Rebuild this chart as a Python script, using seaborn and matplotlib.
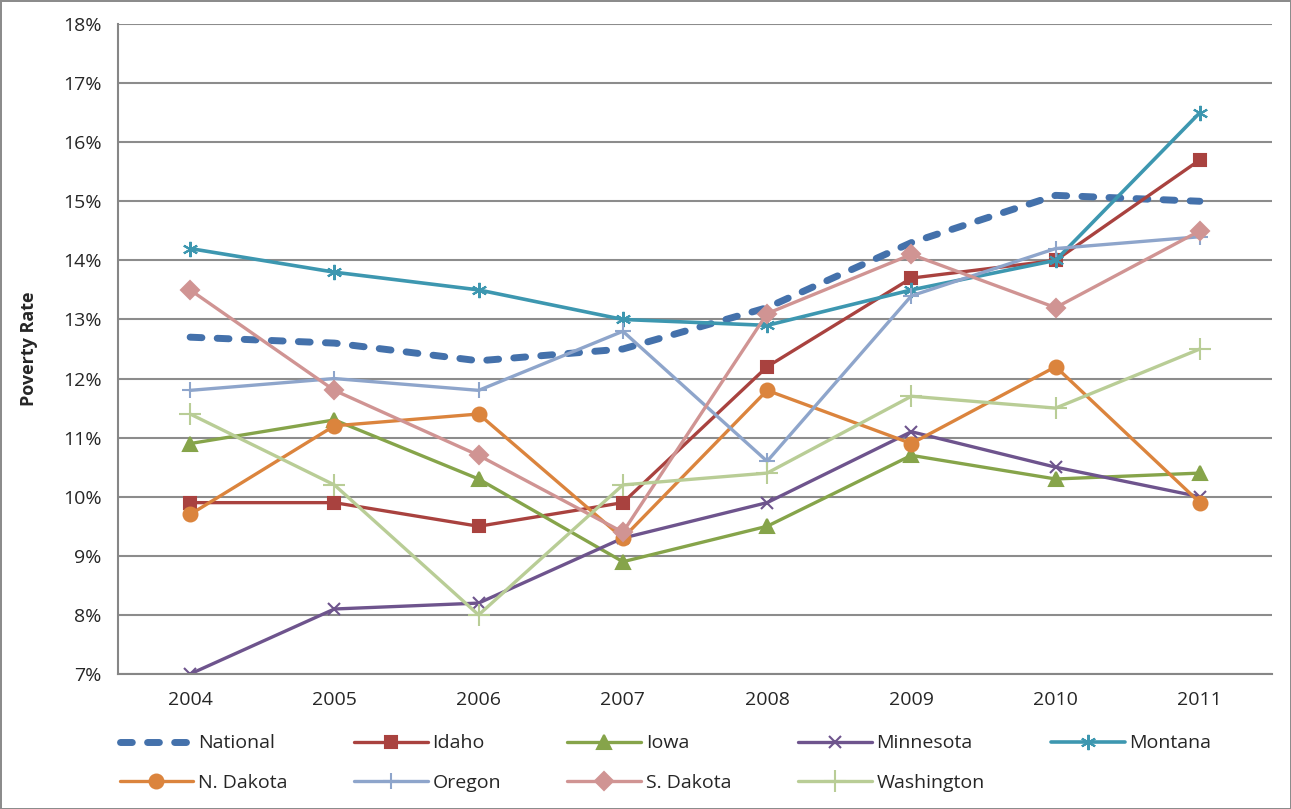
import matplotlib
matplotlib.use('Agg')
import matplotlib.pyplot as plt
import matplotlib.ticker as mticker
import seaborn as sns
import pandas as pd

years = ['2004', '2005', '2006', '2007', '2008', '2009', '2010', '2011']

national = [12.7, 12.6, 12.3, 12.5, 13.2, 14.3, 15.1, 15.0]
idaho = [9.9, 9.9, 9.5, 9.9, 12.2, 13.7, 14.0, 15.7]
iowa = [10.9, 11.3, 10.3, 8.9, 9.5, 10.7, 10.3, 10.4]
minnesota = [7.0, 8.1, 8.2, 9.3, 9.9, 11.1, 10.5, 10.0]
montana = [14.2, 13.8, 13.5, 13.0, 12.9, 13.5, 14.0, 16.5]
n_dakota = [9.7, 11.2, 11.4, 9.3, 11.8, 10.9, 12.2, 9.9]
oregon = [11.8, 12.0, 11.8, 12.8, 10.6, 13.4, 14.2, 14.4]
s_dakota = [13.5, 11.8, 10.7, 9.4, 13.1, 14.1, 13.2, 14.5]
washington = [11.4, 10.2, 8.0, 10.2, 10.4, 11.7, 11.5, 12.5]

series = {
    'National': national,
    'Idaho': idaho,
    'Iowa': iowa,
    'Minnesota': minnesota,
    'Montana': montana,
    'N. Dakota': n_dakota,
    'Oregon': oregon,
    'S. Dakota': s_dakota,
    'Washington': washington,
}

# style per series: color, marker, marker size, line width
styles = {
    'National': ('#4471AB', None, 0, 5.0),
    'Idaho': ('#A9423F', 's', 9, 2.4),
    'Iowa': ('#86A44A', '^', 10, 2.4),
    'Minnesota': ('#6E548D', 'x', 9, 2.4),
    'Montana': ('#3D97B0', (6, 2, 0), 11, 2.6),
    'N. Dakota': ('#DB843D', 'o', 10, 2.4),
    'Oregon': ('#8EA5CB', '+', 12, 2.4),
    'S. Dakota': ('#D09493', 'D', 9, 2.4),
    'Washington': ('#B9CD96', '+', 16, 2.4),
}

sns.set_style('white')
plt.rcParams['font.family'] = ['Open Sans', 'DejaVu Sans']

fig = plt.figure(figsize=(12.91, 8.09), dpi=100)
fig.patch.set_edgecolor('#8c8c8c')
fig.patch.set_linewidth(2)
ax = fig.add_axes([118 / 1291, 1 - 674 / 809, (1272 - 118) / 1291, (674 - 24) / 809])

for name, vals in series.items():
    df = pd.DataFrame({'x': range(len(years)), 'y': vals})
    color, marker, ms, lw = styles[name]
    kw = dict(color=color, linewidth=lw, label=name, ax=ax)
    if marker is None:
        kw['linestyle'] = (0, (1.7, 2.2))
        kw['dash_capstyle'] = 'round'
    else:
        kw['marker'] = marker
        kw['markersize'] = ms
        kw['markeredgecolor'] = color
        kw['markeredgewidth'] = 1.5
    sns.lineplot(data=df, x='x', y='y', **kw)

ax.set_xlim(-0.5, 7.5)
ax.set_ylim(7, 18)
ax.set_yticks(range(7, 19))
ax.yaxis.set_major_formatter(mticker.FuncFormatter(lambda v, p: '{:.0f}%'.format(v)))
ax.set_xticks([i + 0.5 for i in range(-1, 8)])
ax.set_xticklabels([])
ax.set_xticks(range(len(years)), minor=True)
ax.set_xticklabels(years, minor=True)
ax.tick_params(axis='x', which='minor', length=0, labelsize=14, pad=12)
ax.tick_params(axis='x', which='major', length=6, width=1.2, color='#868686', direction='out')
ax.tick_params(axis='y', length=6, width=1.2, color='#868686', direction='out', labelsize=14, pad=6)
ax.grid(axis='y', color='#8c8c8c', linewidth=1.5)
ax.set_axisbelow(True)
for s in ['top', 'right']:
    ax.spines[s].set_visible(False)
for s in ['left', 'bottom']:
    ax.spines[s].set_color('#868686')
    ax.spines[s].set_linewidth(1.5)
ax.set_xlabel('')
ax.set_ylabel('Poverty Rate', fontsize=13, fontweight='bold', labelpad=18)
if ax.get_legend():
    ax.get_legend().remove()

handles, labels = ax.get_legend_handles_labels()
lookup = dict(zip(labels, handles))
# legend fills column by column, so interleave to read row by row
order = ['National', 'N. Dakota', 'Idaho', 'Oregon', 'Iowa', 'S. Dakota',
         'Minnesota', 'Washington', 'Montana']
fig.legend([lookup[k] for k in order], order, loc='upper left',
           bbox_to_anchor=(102 / 1291, 1 - 717 / 809),
           ncol=5, frameon=False, fontsize=14, handlelength=3.8, handletextpad=0.25,
           columnspacing=3.4, labelspacing=1.1)

fig.savefig('out.png', dpi=100)
plt.close()
